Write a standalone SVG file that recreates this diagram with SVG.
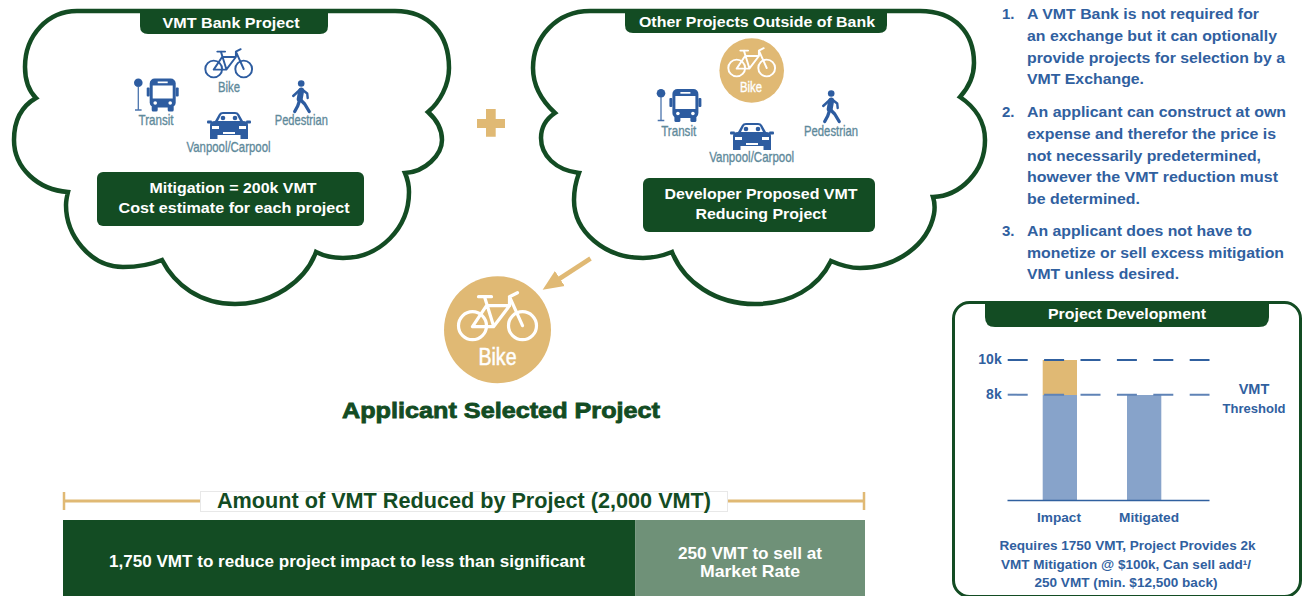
<svg xmlns="http://www.w3.org/2000/svg" xmlns:xlink="http://www.w3.org/1999/xlink" width="1302" height="596" viewBox="0 0 1302 596">
<style>
text{font-family:"Liberation Sans",Arial,sans-serif;font-weight:700}
.m{text-anchor:middle}
.w{fill:#fff}
.g{fill:#134C23}
.b{fill:#30609F}
.cloud{fill:#fff;stroke:#134C23;stroke-width:4.5;stroke-linejoin:miter}
.dark{fill:#134C23}
.tan{fill:#E0B974}
.lab{font-weight:400;font-size:15px;fill:#5F8A9B;text-anchor:middle;stroke:#5F8A9B;stroke-width:.35}
.list{font-size:15px}
.foot{font-size:13.5px}
.dash{stroke-width:2;stroke-dasharray:20 16.4;fill:none}
</style>
<defs>
<g id="bike" fill="none" stroke="currentColor" stroke-width="3.2" stroke-linecap="round" stroke-linejoin="round">
<circle cx="-25" cy="0" r="14"/><circle cx="25" cy="0" r="14"/>
<path d="M-19-29H-6M-13-29L-4 0M-11-20L-25 1H-4L12-20H-11M12-20L12-29L25 0M12-29L20-33"/>
</g>
<g id="transit">
<circle cx="4.3" cy="4.3" r="4.3" fill="#2D5CA0"/>
<path d="M4.3 8V31M1 31.5H7.6" stroke="#4B74AD" stroke-width="1.3" fill="none"/>
<g transform="translate(12.7,0)">
<rect x="0" y="9" width="3" height="9" rx="1" fill="#2D5CA0"/><rect x="29" y="9" width="3" height="9" rx="1" fill="#2D5CA0"/>
<rect x="3" y="0" width="26" height="29" rx="5" fill="#2D5CA0"/>
<rect x="5" y="27" width="6" height="6" rx="1.5" fill="#2D5CA0"/><rect x="21" y="27" width="6" height="6" rx="1.5" fill="#2D5CA0"/>
<rect x="6" y="7" width="20" height="13" fill="#fff"/><rect x="11" y="3" width="10" height="1.7" fill="#fff"/>
<circle cx="8.5" cy="24.5" r="1.8" fill="#fff"/><circle cx="23.5" cy="24.5" r="1.8" fill="#fff"/>
</g>
</g>
<g id="car">
<path d="M8 9L12 2Q13 0 16 0H28Q31 0 32 2L36 9Z" fill="#2D5CA0"/>
<path d="M11 9L14 3Q14.500 2 16 2H28Q29.500 2 30 3L33 9Z" fill="#fff"/>
<circle cx="16" cy="6" r="2.300" fill="#2D5CA0"/><circle cx="28" cy="6" r="2.300" fill="#2D5CA0"/>
<path d="M12 9H16V11H12ZM24 9H32V11H24Z" fill="#2D5CA0"/>
<path d="M3 13Q3 9 8 9H36Q41 9 41 13V23H3Z" fill="#2D5CA0"/>
<rect x="0" y="8.500" width="5" height="3" rx="1" fill="#2D5CA0"/><rect x="39" y="8.500" width="5" height="3" rx="1" fill="#2D5CA0"/>
<rect x="3" y="22" width="7.500" height="5" fill="#2D5CA0"/><rect x="33.500" y="22" width="7.500" height="5" fill="#2D5CA0"/>
<rect x="5" y="14" width="7" height="3" fill="#fff"/><rect x="32" y="14" width="7" height="3" fill="#fff"/><rect x="16" y="20" width="12" height="2" fill="#fff"/>
</g>
<g id="ped" fill="none" stroke="#2D5CA0" stroke-linecap="round" stroke-linejoin="round">
<circle cx="9.500" cy="3.500" r="3.300" fill="#2D5CA0" stroke="none"/>
<path d="M9.500 10.500L8 19" stroke-width="6"/>
<path d="M8 19L13 24L17.500 31.500M8 20L6 26L3 31.500" stroke-width="3.300"/>
<path d="M8 10L1.500 16M11 10L15.500 13.500L16 18" stroke-width="2.400"/>
</g>
<marker id="ah" markerUnits="userSpaceOnUse" markerWidth="22" markerHeight="20" viewBox="0 0 22 20" refX="1" refY="10" orient="auto"><path d="M0 1L20.500 10L0 19Z" fill="#E0B974"/></marker>
</defs>
<rect width="1302" height="596" fill="#fff"/>

<g id="node-vmt-bank">
<path class="cloud" d="M77 11H395C430 11 449 35 449 68C449 85 440 102 428 112C437 120 442 130 442 140C442 155 425 172 405 173C408 180 409 186 409 192C409 228 380 258 343 258C333 258 324 256 316 252C305 282 272 304 235 304C200 304 175 285 162 260C150 265 137 267 123 267C90 267 66 235 66 205C66 200 67 196 68 192C38 190 14 168 14 140C14 120 22 106 36 98C28 90 25 78 25 67C25 35 48 11 77 11Z"/>
<path class="dark" d="M140 9H328V26Q328 34 320 34H148Q140 34 140 26Z"/>
<text class="m w" x="231" y="28" font-size="15" textLength="137" lengthAdjust="spacingAndGlyphs">VMT Bank Project</text>
<use href="#bike" transform="translate(228.700,69) scale(.6)" color="#2D5CA0"/>
<text class="lab" x="229" y="91.700" textLength="22" lengthAdjust="spacingAndGlyphs">Bike</text>
<use href="#transit" transform="translate(134,78.500)"/>
<text class="lab" x="156" y="125" textLength="35" lengthAdjust="spacingAndGlyphs">Transit</text>
<use href="#car" transform="translate(207,112)"/>
<text class="lab" x="228.500" y="151.700" textLength="84" lengthAdjust="spacingAndGlyphs">Vanpool/Carpool</text>
<use href="#ped" transform="translate(291.700,80)"/>
<text class="lab" x="301.300" y="125" textLength="53" lengthAdjust="spacingAndGlyphs">Pedestrian</text>
<rect class="dark" x="97" y="172" width="267" height="54" rx="6"/>
<text class="m w" x="233" y="193" font-size="15" textLength="167" lengthAdjust="spacingAndGlyphs">Mitigation = 200k VMT</text>
<text class="m w" x="234" y="213" font-size="15" textLength="231" lengthAdjust="spacingAndGlyphs">Cost estimate for each project</text>
</g>

<g id="node-plus"><path class="tan" d="M486 109H495.700V119H505V128H495.700V136.700H486V128H477V119H486Z"/></g>

<g id="node-other-projects">
<path class="cloud" d="M590 11H920C955 11 974 33 974 63C974 75 969 87 960 97C975 107 985 122 985 140C985 172 960 196 933 197C935 203 935 208 934 214C928 245 896 268 860 268C850 268 840 265 831 261C818 288 790 304 755 304C715 304 684 282 672 252C662 256 652 258 643 258C605 258 574 232 574 200C574 190 576 181 579 173C555 170 541 155 541 138C541 128 546 119 555 113C541 100 533 85 533 68C533 37 557 11 590 11Z"/>
<path class="dark" d="M625 9H887V25Q887 33 879 33H633Q625 33 625 25Z"/>
<text class="m w" x="757" y="27" font-size="15" textLength="236" lengthAdjust="spacingAndGlyphs">Other Projects Outside of Bank</text>
<circle class="tan" cx="751.700" cy="70.500" r="32.300"/>
<use href="#bike" transform="translate(751.700,68) scale(.6)" color="#fff"/>
<text class="lab" x="751" y="91.700" textLength="22" lengthAdjust="spacingAndGlyphs" style="fill:#fff;stroke:#fff">Bike</text>
<use href="#transit" transform="translate(656.700,89)"/>
<text class="lab" x="678.700" y="135.700" textLength="35" lengthAdjust="spacingAndGlyphs">Transit</text>
<use href="#car" transform="translate(730,123)"/>
<text class="lab" x="751.700" y="162.300" textLength="85" lengthAdjust="spacingAndGlyphs">Vanpool/Carpool</text>
<use href="#ped" transform="translate(821.700,90)"/>
<text class="lab" x="831" y="135.700" textLength="54" lengthAdjust="spacingAndGlyphs">Pedestrian</text>
<rect class="dark" x="643" y="178" width="232" height="54" rx="6"/>
<text class="m w" x="761" y="199" font-size="15" textLength="193" lengthAdjust="spacingAndGlyphs">Developer Proposed VMT</text>
<text class="m w" x="761" y="219" font-size="15" textLength="131" lengthAdjust="spacingAndGlyphs">Reducing Project</text>
</g>

<g id="connectors">
<line x1="590.500" y1="258.500" x2="559" y2="279" stroke="#E0B974" stroke-width="4.500" marker-end="url(#ah)"/>
</g>

<g id="node-selected">
<circle class="tan" cx="497.500" cy="329.700" r="53.500"/>
<use href="#bike" transform="translate(497.500,325.700)" color="#fff"/>
<text class="m w" x="497.500" y="365" style="font-weight:400" stroke="#fff" stroke-width=".5" font-size="23" textLength="38" lengthAdjust="spacingAndGlyphs">Bike</text>
<text class="m g" x="501" y="418" font-size="22" textLength="318" lengthAdjust="spacingAndGlyphs" stroke="#134C23" stroke-width=".8">Applicant Selected Project</text>
</g>

<g id="node-amount">
<path d="M64 501H200M728 501H864" stroke="#E0B974" stroke-width="3" fill="none"/>
<path d="M64 492V510M864 492V510" stroke="#E0B974" stroke-width="2.500" fill="none"/>
<rect x="200.500" y="491.500" width="527" height="20" fill="#fff" stroke="#E8E8E8"/>
<text class="m g" x="464" y="508" font-size="22" textLength="494" lengthAdjust="spacingAndGlyphs">Amount of VMT Reduced by Project (2,000 VMT)</text>
<rect class="dark" x="63" y="520" width="572.500" height="76"/>
<rect x="635.500" y="520" width="229.500" height="76" fill="#6F9178"/>
<text class="m w" x="347" y="567" font-size="17" textLength="476" lengthAdjust="spacingAndGlyphs">1,750 VMT to reduce project impact to less than significant</text>
<text class="m w" x="750" y="559" font-size="17" textLength="144" lengthAdjust="spacingAndGlyphs">250 VMT to sell at</text>
<text class="m w" x="750" y="577" font-size="17" textLength="100" lengthAdjust="spacingAndGlyphs">Market Rate</text>
</g>

<g id="node-notes" class="b">
<text class="list" x="1002" y="18.500">1.</text>
<text class="list" x="1027" y="18.500" textLength="232" lengthAdjust="spacingAndGlyphs">A VMT Bank is not required for</text>
<text class="list" x="1027" y="40.500" textLength="250" lengthAdjust="spacingAndGlyphs">an exchange but it can optionally</text>
<text class="list" x="1027" y="62.500" textLength="258" lengthAdjust="spacingAndGlyphs">provide projects for selection by a</text>
<text class="list" x="1027" y="84" textLength="117" lengthAdjust="spacingAndGlyphs">VMT Exchange.</text>
<text class="list" x="1002" y="116.700">2.</text>
<text class="list" x="1027" y="116.700" textLength="259" lengthAdjust="spacingAndGlyphs">An applicant can construct at own</text>
<text class="list" x="1027" y="138.600" textLength="249" lengthAdjust="spacingAndGlyphs">expense and therefor the price is</text>
<text class="list" x="1027" y="160.500" textLength="234" lengthAdjust="spacingAndGlyphs">not necessarily predetermined,</text>
<text class="list" x="1027" y="182.300" textLength="251" lengthAdjust="spacingAndGlyphs">however the VMT reduction must</text>
<text class="list" x="1027" y="203.500" textLength="113" lengthAdjust="spacingAndGlyphs">be determined.</text>
<text class="list" x="1002" y="235.700">3.</text>
<text class="list" x="1027" y="235.700" textLength="225" lengthAdjust="spacingAndGlyphs">An applicant does not have to</text>
<text class="list" x="1027" y="257.500" textLength="257" lengthAdjust="spacingAndGlyphs">monetize or sell excess mitigation</text>
<text class="list" x="1027" y="278.700" textLength="152" lengthAdjust="spacingAndGlyphs">VMT unless desired.</text>
</g>

<g id="node-project-development">
<rect x="953.500" y="302.500" width="347" height="294" rx="16" fill="#fff" stroke="#134C23" stroke-width="3"/>
<path class="dark" d="M985 301H1269V317Q1269 327 1259 327H995Q985 327 985 317Z"/>
<text class="m w" x="1127" y="319" font-size="15" textLength="158" lengthAdjust="spacingAndGlyphs">Project Development</text>
<rect class="tan" x="1042.700" y="360" width="34.300" height="35"/>
<rect x="1042.700" y="395" width="34.300" height="105" fill="#87A3CA"/>
<rect x="1127" y="395" width="34.300" height="105" fill="#87A3CA"/>
<path class="dash" d="M1007.700 360H1209.500" stroke="#30609F"/>
<path class="dash" d="M1007.700 394.700H1209.500" stroke="#5F83B6"/>
<path d="M1007.500 500.500H1209.500" stroke="#30609F" stroke-width="1.500"/>
<text class="b" x="1001.700" y="364" font-size="14" text-anchor="end">10k</text>
<text class="b" x="1001.700" y="399" font-size="14" text-anchor="end">8k</text>
<text class="b m" x="1254" y="394" font-size="14.500">VMT</text>
<text class="b m" x="1254" y="413" font-size="13.500" textLength="63" lengthAdjust="spacingAndGlyphs">Threshold</text>
<text class="b m" x="1059" y="521.700" font-size="13.500" textLength="44" lengthAdjust="spacingAndGlyphs">Impact</text>
<text class="b m" x="1149" y="521.700" font-size="13.500" textLength="60" lengthAdjust="spacingAndGlyphs">Mitigated</text>
<text class="b m foot" x="1127.500" y="550" textLength="256" lengthAdjust="spacingAndGlyphs">Requires 1750 VMT, Project Provides 2k</text>
<text class="b m foot" x="1126" y="569" textLength="250" lengthAdjust="spacingAndGlyphs">VMT Mitigation @ $100k, Can sell add¹/</text>
<text class="b m foot" x="1126" y="587" textLength="183" lengthAdjust="spacingAndGlyphs">250 VMT (min. $12,500 back)</text>
</g>
</svg>
